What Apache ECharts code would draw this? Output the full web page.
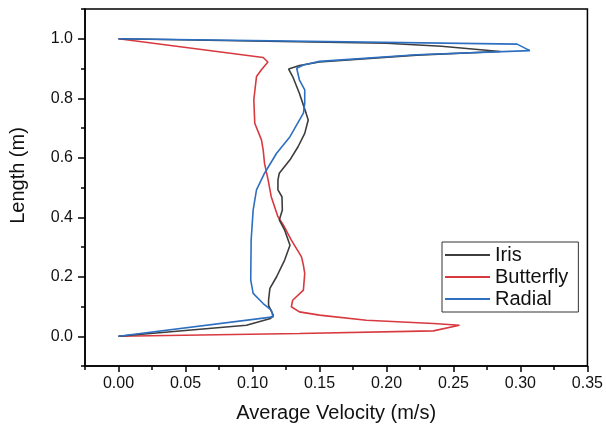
<!DOCTYPE html>
<html>
<head>
<meta charset="utf-8">
<script src="https://cdn.jsdelivr.net/npm/echarts@6/dist/echarts.min.js"></script>
<style>
html,body{margin:0;padding:0;background:#fff;}
#c{width:606px;height:428px;}
</style>
</head>
<body>
<div id="c"></div>
<script>
// ---- data (velocity in m/s, length in m) ----
var seriesNames = ['Iris', 'Butterfly', 'Radial'];

var irisLength   = [0, 0.037, 0.060, 0.071, 0.104, 0.121, 0.161, 0.200, 0.256, 0.306, 0.357, 0.391, 0.424, 0.469, 0.492, 0.525, 0.548, 0.593, 0.637, 0.682, 0.727, 0.750, 0.817, 0.873, 0.898, 0.910, 0.922, 0.945, 0.957, 0.975, 0.985, 1.0];
var irisVelocity = [0, 0.0955, 0.1135, 0.1155, 0.112, 0.112, 0.113, 0.118, 0.124, 0.128, 0.124, 0.120, 0.1223, 0.122, 0.119, 0.119, 0.120, 0.128, 0.134, 0.139, 0.1416, 0.140, 0.135, 0.130, 0.127, 0.135, 0.150, 0.2226, 0.285, 0.241, 0.200, 0];

var butterflyLength   = [0, 0.009, 0.018, 0.037, 0.043, 0.054, 0.071, 0.082, 0.099, 0.121, 0.155, 0.211, 0.239, 0.267, 0.323, 0.374, 0.402, 0.469, 0.525, 0.581, 0.626, 0.660, 0.716, 0.795, 0.873, 0.896, 0.922, 0.937, 1.0];
var butterflyVelocity = [0, 0.135, 0.235, 0.2545, 0.235, 0.185, 0.150, 0.135, 0.129, 0.130, 0.138, 0.139, 0.138, 0.1366, 0.129, 0.123, 0.119, 0.114, 0.1117, 0.109, 0.108, 0.1067, 0.1017, 0.101, 0.103, 0.1067, 0.1115, 0.108, 0];

var radialLength   = [0, 0.065, 0.088, 0.110, 0.144, 0.189, 0.323, 0.424, 0.492, 0.548, 0.615, 0.671, 0.750, 0.783, 0.828, 0.862, 0.901, 0.912, 0.924, 0.946, 0.960, 0.982, 1.0];
var radialVelocity = [0, 0.1155, 0.114, 0.108, 0.1005, 0.0987, 0.099, 0.1005, 0.103, 0.109, 0.118, 0.128, 0.138, 0.139, 0.139, 0.135, 0.133, 0.138, 0.150, 0.2226, 0.307, 0.2975, 0];

var xTicks = [0, 0.05, 0.10, 0.15, 0.20, 0.25, 0.30, 0.35];
var xMinorTicks = [-0.025, 0.025, 0.075, 0.125, 0.175, 0.225, 0.275, 0.325];
var yTicks = [0, 0.2, 0.4, 0.6, 0.8, 1.0];
var yMinorTicks = [-0.1, 0.1, 0.3, 0.5, 0.7, 0.9, 1.1];

var colors = ['#3d3d3d', '#d8393f', '#2d6fc0'];

function pairs(v, l) { return v.map(function (x, i) { return [x, l[i]]; }); }

var chart = echarts.init(document.getElementById('c'), null, {renderer: 'canvas'});
var F = 'Liberation Sans, Arial, sans-serif';
var X = {min: -0.025, max: 0.35};
var Y = {min: -0.1, max: 1.1};

var option = {
  animation: false,
  backgroundColor: '#fff',
  color: colors,
  grid: {left: 85, right: 18, top: 9, bottom: 62, show: true, borderColor: '#000', borderWidth: 1.5, backgroundColor: 'transparent'},
  xAxis: [{
    type: 'value', min: X.min, max: X.max,
    name: 'Average Velocity (m/s)', nameLocation: 'middle', nameGap: 37,
    nameTextStyle: {fontFamily: F, fontSize: 20, color: '#111'},
    axisLine: {onZero: false, lineStyle: {color: '#000', width: 1.5}},
    axisTick: {customValues: xTicks, inside: false, length: 6, lineStyle: {color: '#000', width: 1.5}},
    axisLabel: {customValues: xTicks, margin: 10, fontFamily: F, fontSize: 16, color: '#111',
      formatter: function (v) { return v.toFixed(2); }},
    splitLine: {show: false}
  }, {
    type: 'value', min: X.min, max: X.max, position: 'bottom', gridIndex: 0,
    axisLine: {show: false, onZero: false},
    axisTick: {customValues: xMinorTicks, inside: false, length: 4, lineStyle: {color: '#000', width: 1.5}},
    axisLabel: {show: false}, splitLine: {show: false}
  }],
  yAxis: [{
    type: 'value', min: Y.min, max: Y.max,
    name: 'Length (m)', nameLocation: 'middle', nameGap: 57,
    nameTextStyle: {fontFamily: F, fontSize: 20, color: '#111', padding: [0, 0, 0, 24]},
    axisLine: {onZero: false, lineStyle: {color: '#000', width: 1.5}},
    axisTick: {customValues: yTicks, inside: false, length: 7, lineStyle: {color: '#000', width: 1.5}},
    axisLabel: {customValues: yTicks, margin: 12, fontFamily: F, fontSize: 16, color: '#111',
      formatter: function (v) { return v.toFixed(1); }},
    splitLine: {show: false}
  }, {
    type: 'value', min: Y.min, max: Y.max, position: 'left', gridIndex: 0,
    axisLine: {show: false, onZero: false},
    axisTick: {customValues: yMinorTicks, inside: false, length: 4, lineStyle: {color: '#000', width: 1.5}},
    axisLabel: {show: false}, splitLine: {show: false}
  }],
  legend: {
    orient: 'vertical', left: 442, top: 242,
    padding: [3, 10, 3, 3], itemGap: 2,
    itemWidth: 45, itemHeight: 2, icon: 'rect',
    borderColor: '#333', borderWidth: 1, backgroundColor: '#fff',
    textStyle: {fontFamily: F, fontSize: 20, color: '#111'},
    data: seriesNames
  },
  series: [
    {name: seriesNames[0], type: 'line', data: pairs(irisVelocity, irisLength), showSymbol: false, symbol: 'none', lineStyle: {width: 1.6, color: colors[0]}, z: 3},
    {name: seriesNames[1], type: 'line', data: pairs(butterflyVelocity, butterflyLength), showSymbol: false, symbol: 'none', lineStyle: {width: 1.6, color: colors[1]}, z: 2},
    {name: seriesNames[2], type: 'line', data: pairs(radialVelocity, radialLength), showSymbol: false, symbol: 'none', lineStyle: {width: 1.6, color: colors[2]}, z: 4}
  ]
};
chart.setOption(option);
</script>
</body>
</html>
